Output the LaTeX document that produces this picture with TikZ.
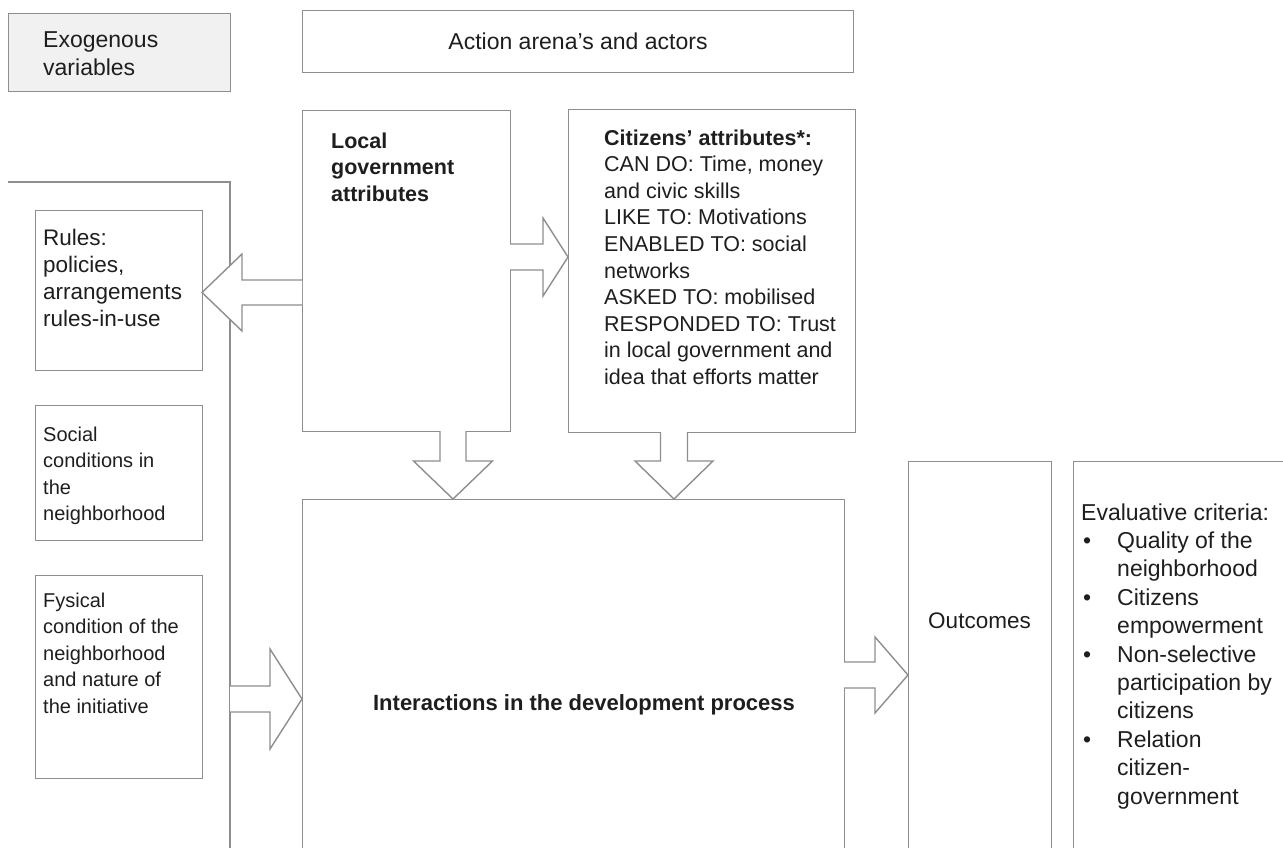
\documentclass[tikz,border=0pt]{standalone}
\usepackage{fontspec}
\setmainfont{Liberation Sans}
\usetikzlibrary{calc}
\definecolor{ln}{HTML}{8E8E8E}
\definecolor{fillg}{HTML}{F1F1F1}
\definecolor{txt}{HTML}{1E1E1E}
\newcommand{\bul}[1]{\makebox[36pt][l]{\hspace*{2pt}\textbullet}#1}
\newcommand{\ind}[1]{\hspace*{36pt}#1}
\newcommand{\lines}[1]{\begin{tabular}[t]{@{}l@{}}#1\end{tabular}}
\newcommand{\harrow}[6]{% tail x, tip x, centre y, head base x, half shaft, half head
  \draw[barrow] (#1,#3-#5) -- (#4,#3-#5) -- (#4,#3-#6) -- (#2,#3) -- (#4,#3+#6) -- (#4,#3+#5) -- (#1,#3+#5);}
\newcommand{\varrow}[6]{% tail y, tip y, centre x, head base y, half shaft, half head
  \draw[barrow] (#3-#5,#1) -- (#3-#5,#4) -- (#3-#6,#4) -- (#3,#2) -- (#3+#6,#4) -- (#3+#5,#4) -- (#3+#5,#1);}
\tikzset{
  box/.style={draw=ln, line width=1.4pt, inner sep=0pt, anchor=north west},
  barrow/.style={draw=ln, line width=1.4pt, fill=white, line join=miter},
  tx/.style={anchor=base west, inner sep=0pt, text=txt},
  fA/.style={font=\fontsize{21.5}{26.6}\selectfont},
  fAb/.style={font=\fontsize{21.5}{26.6}\selectfont\bfseries},
  fB/.style={font=\fontsize{22.5}{27.3}\selectfont},
  fBb/.style={font=\fontsize{22}{27}\selectfont\bfseries},
  fC/.style={font=\fontsize{20}{26.5}\selectfont},
  fD/.style={font=\fontsize{23}{28.4}\selectfont},
}
\begin{document}
\begin{tikzpicture}[x=1pt,y=-1pt]
\useasboundingbox (0,0) rectangle (1283,847);
\clip (0,0) rectangle (1283,847);

% boxes
\node[box, fill=fillg, minimum width=222pt, minimum height=78pt] (exo) at (8,13) {};
\node[box, minimum width=551pt, minimum height=62pt] (arena) at (302,10) {};
\node[box, minimum width=208pt, minimum height=321pt] (lg) at (302,110) {};
\node[box, minimum width=287pt, minimum height=323pt] (cit) at (568,109) {};
\node[box, minimum width=167pt, minimum height=160pt] (rules) at (35,210) {};
\node[box, minimum width=167pt, minimum height=135pt] (social) at (35,405) {};
\node[box, minimum width=167pt, minimum height=203pt] (fys) at (35,575) {};
\node[box, minimum width=542pt, minimum height=420pt] (inter) at (302,499) {};
\node[box, minimum width=143pt, minimum height=440pt] (out) at (908,461) {};
\node[box, minimum width=260pt, minimum height=440pt] (eval) at (1073,461) {};

% exogenous frame
\coordinate (frTL) at (8,182);
\coordinate (frTR) at (230,182);
\coordinate (frBR) at (230,900);
\draw[draw=ln, line width=1.4pt] (frTL) -- (frTR) -- (frBR);

% block arrows
\harrow{302}{202}{292.5}{242}{12.5}{38.5}
\harrow{510}{568}{257}{543}{13}{39}
\varrow{431}{499}{453}{461}{13}{39.5}
\varrow{432}{499}{674}{461}{13.5}{39}
\harrow{230}{302}{699}{270}{13}{50}
\harrow{844}{908}{675}{875}{13}{38}

% texts
\node[tx, fD] (exoT) at (43,47) {\lines{Exogenous\\variables}};
\node[tx, fD, anchor=base] (arenaT) at (578,49) {Action arena’s and actors};
\node[tx, fAb] (lgT) at (331,148) {\lines{Local\\government\\attributes}};
\node[tx, fA] (citT) at (604,145) {\lines{\textbf{Citizens’ attributes*:}\\CAN DO: Time, money\\and civic skills\\LIKE TO: Motivations\\ENABLED TO: social\\networks\\ASKED TO: mobilised\\RESPONDED TO: Trust\\in local government and\\idea that efforts matter}};
\node[tx, fB] (rulesT) at (43,245) {\lines{Rules:\\policies,\\arrangements\\rules-in-use}};
\node[tx, fC] (socialT) at (43,441) {\lines{Social\\conditions in\\the\\neighborhood}};
\node[tx, fC] (fysT) at (43,607) {\lines{Fysical\\condition of the\\neighborhood\\and nature of\\the initiative}};
\node[tx, fBb, anchor=base] (interT) at (584,710) {Interactions in the development process};
\node[tx, fB, anchor=base] (outT) at (979.5,628) {Outcomes};
\node[tx, fD] (evalT) at (1081,520) {\lines{Evaluative criteria:\\\bul{Quality of the}\\\ind{neighborhood}\\\bul{Citizens}\\\ind{empowerment}\\\bul{Non-selective}\\\ind{participation by}\\\ind{citizens}\\\bul{Relation}\\\ind{citizen-}\\\ind{government}}};
\end{tikzpicture}
\end{document}
